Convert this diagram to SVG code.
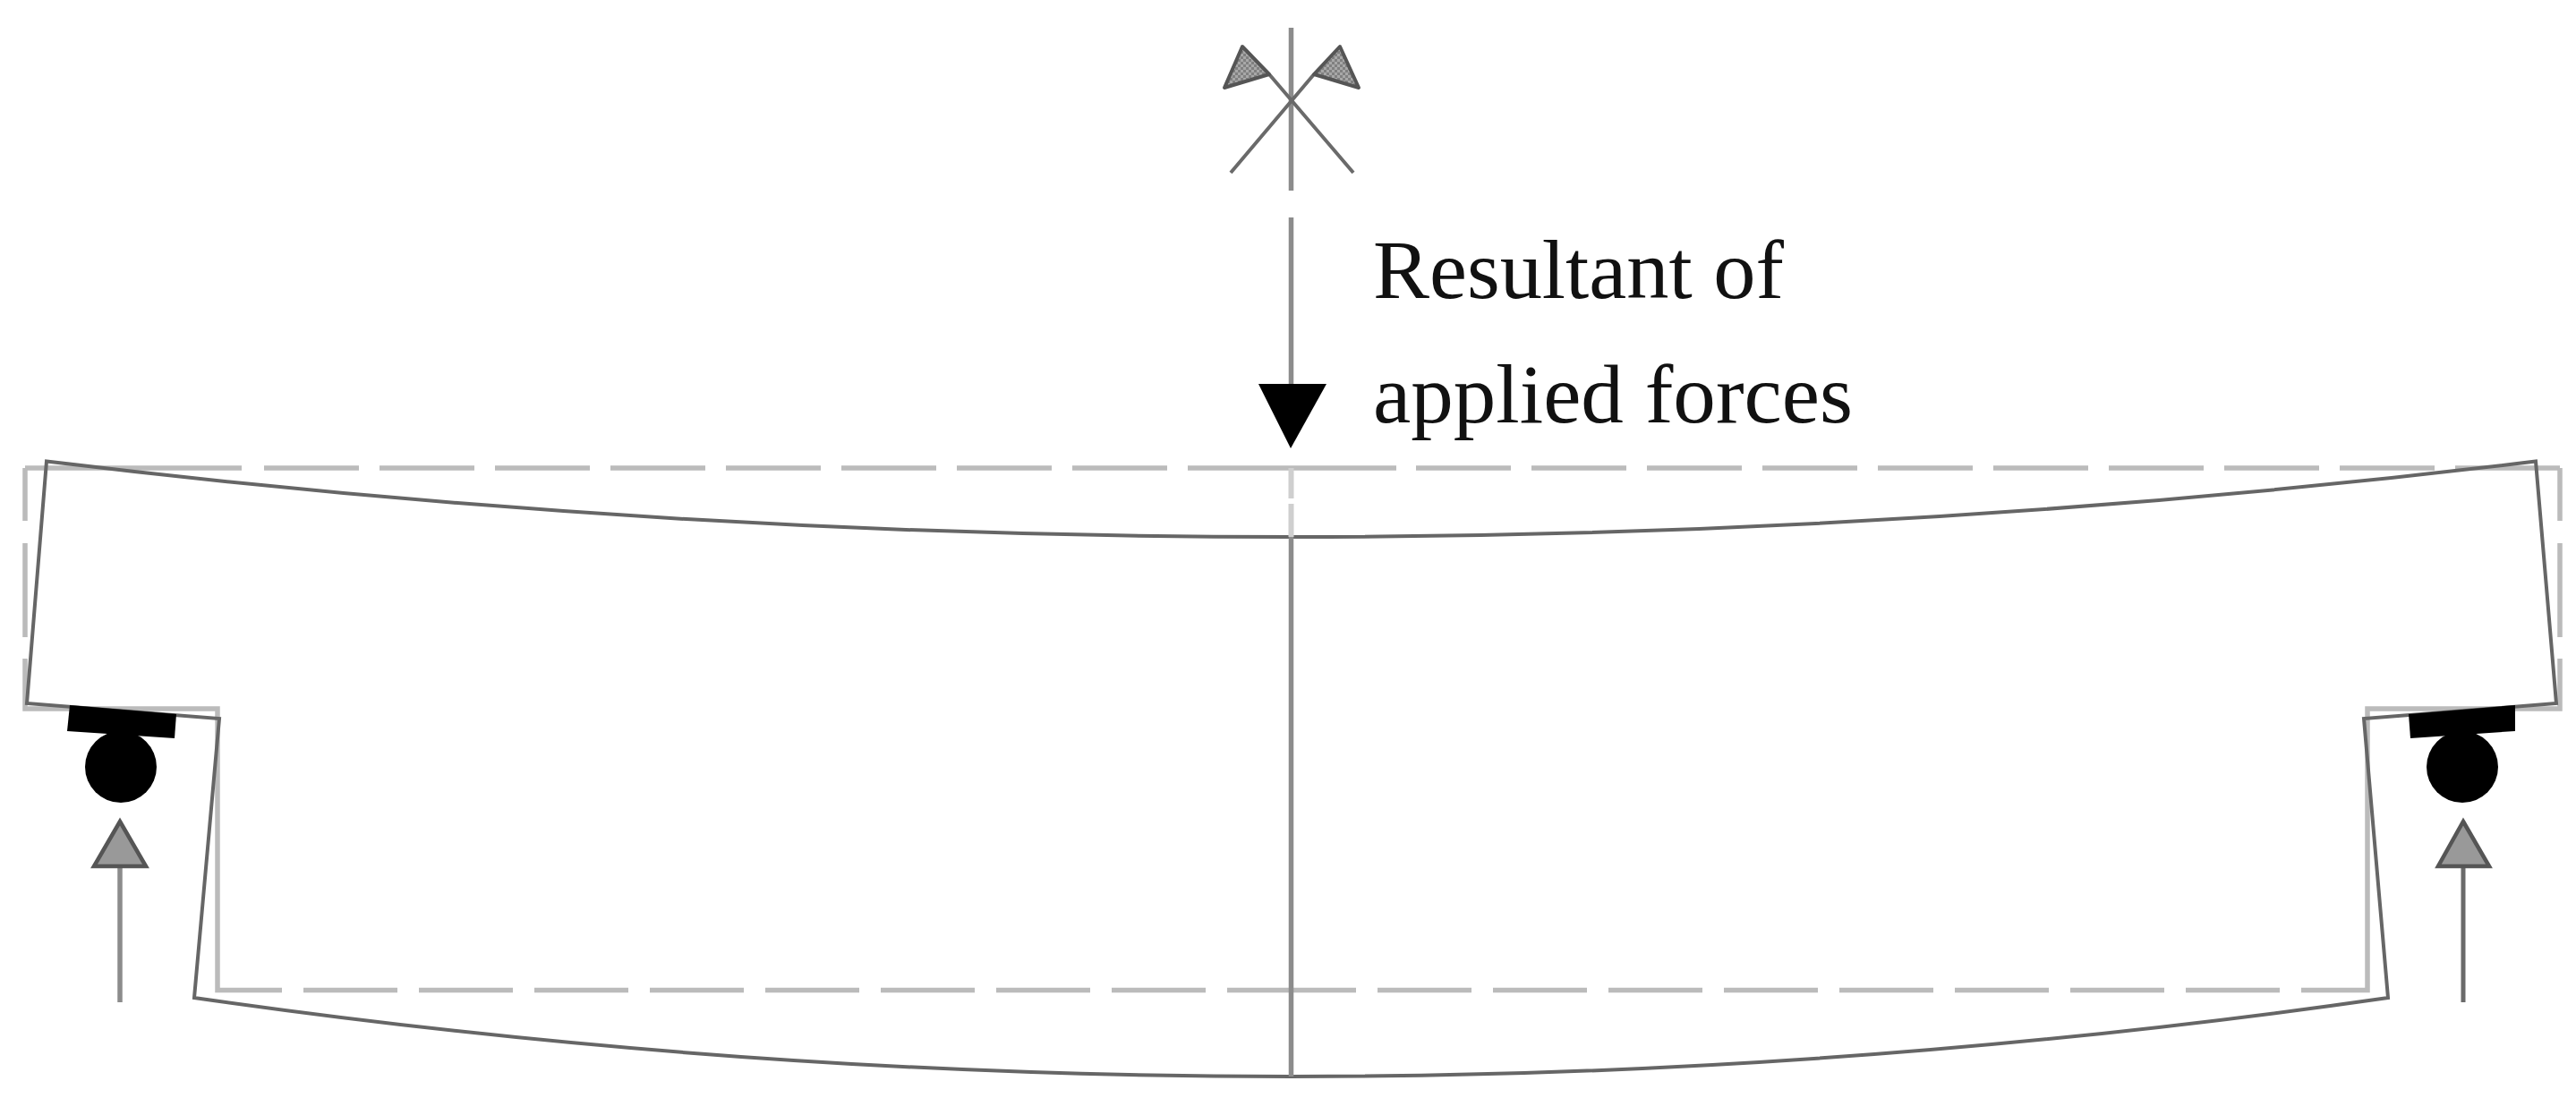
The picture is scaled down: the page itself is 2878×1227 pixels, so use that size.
<svg xmlns="http://www.w3.org/2000/svg" width="2878" height="1227" viewBox="0 0 2878 1227">
<defs>
<pattern id="hatch" width="6" height="6" patternUnits="userSpaceOnUse">
<rect width="6" height="6" fill="#808080"/>
<rect width="3" height="3" fill="#a8a8a8"/>
<rect x="3" y="3" width="3" height="3" fill="#a8a8a8"/>
</pattern>
<style>
.beam{fill:none;stroke:#666;stroke-width:4;stroke-linejoin:miter}
.ref{fill:none;stroke:#bbb;stroke-width:5.500}
.dash{stroke-dasharray:106 23}
.axis{fill:none;stroke:#8c8c8c;stroke-width:5.500}
.faint{fill:none;stroke:#cfcfcf;stroke-width:6}
.thin{fill:none;stroke:#6a6a6a;stroke-width:4}
.flag{fill:url(#hatch);stroke:#555;stroke-width:4;stroke-linejoin:round}
.react{fill:#999;stroke:#555;stroke-width:4.500;stroke-linejoin:miter}
.solid{fill:#000}
text{font-family:"Liberation Serif","Times New Roman",serif;font-size:94px;fill:#111}
</style>
</defs>
<rect width="2878" height="1227" fill="#fff"/>
<g id="undeformed-outline">
<path class="ref" d="M28 523H270M1327 523H1560M2743 523H2860"/>
<path class="ref dash" d="M295 523H1306"/>
<path class="ref dash" d="M1582 523H2720"/>
<path class="ref" d="M28 523V582M28 607V712M28 736V792H243V1106.500H315"/>
<path class="ref" d="M2860 523V582M2860 607V712M2860 736V792H2645V1106.500H2571"/>
<path class="ref dash" style="stroke-dasharray:105 24" d="M339 1106.500H1347"/>
<path class="ref" d="M1371 1106.500H1515"/>
<path class="ref dash" style="stroke-dasharray:105 24" d="M1539 1106.500H2548"/>
</g>
<g id="deformed-beam">
<path class="beam" d="M52 515.500 Q747 600 1442 600 T2833 515.500 L2856 786 L2641 803 L2668 1115 Q2055 1203 1442 1203 T217 1115 L245 803 L30 786 Z"/>
</g>
<g id="connectors">
<path class="axis" d="M1442.500 31V213M1442.500 243V430"/>
<path class="faint" d="M1442.500 523V557M1442.500 563V600"/>
<path class="axis" d="M1442.500 600V1203"/>
<path class="thin" d="M1375 193L1468 83M1512 193L1418 83"/>
<path class="axis" d="M134 968V1120"/>
<path class="thin" d="M2752 968V1120" style="stroke-width:5"/>
</g>
<g id="centre-flags">
<path class="flag" d="M1388 52L1368 98L1418 83Z"/>
<path class="flag" d="M1497 52L1518 98L1468 83Z"/>
</g>
<g id="load-arrow"><path class="solid" d="M1406 429H1482L1442 501Z"/></g>
<g id="left-support">
<path class="solid" d="M78 788L197 798L195 825L75 817Z"/>
<circle class="solid" cx="135" cy="857" r="40"/>
<path class="react" d="M134 918L163 968H105Z"/>
</g>
<g id="right-support">
<path class="solid" d="M2691 798L2810 788V817L2693 825Z"/>
<circle class="solid" cx="2751" cy="857" r="40"/>
<path class="react" d="M2752 918L2781 968H2724Z"/>
</g>
<g id="load-label">
<text x="1534" y="333" textLength="459" lengthAdjust="spacingAndGlyphs">Resultant of</text>
<text x="1534" y="472" textLength="536" lengthAdjust="spacingAndGlyphs">applied forces</text>
</g>
</svg>
